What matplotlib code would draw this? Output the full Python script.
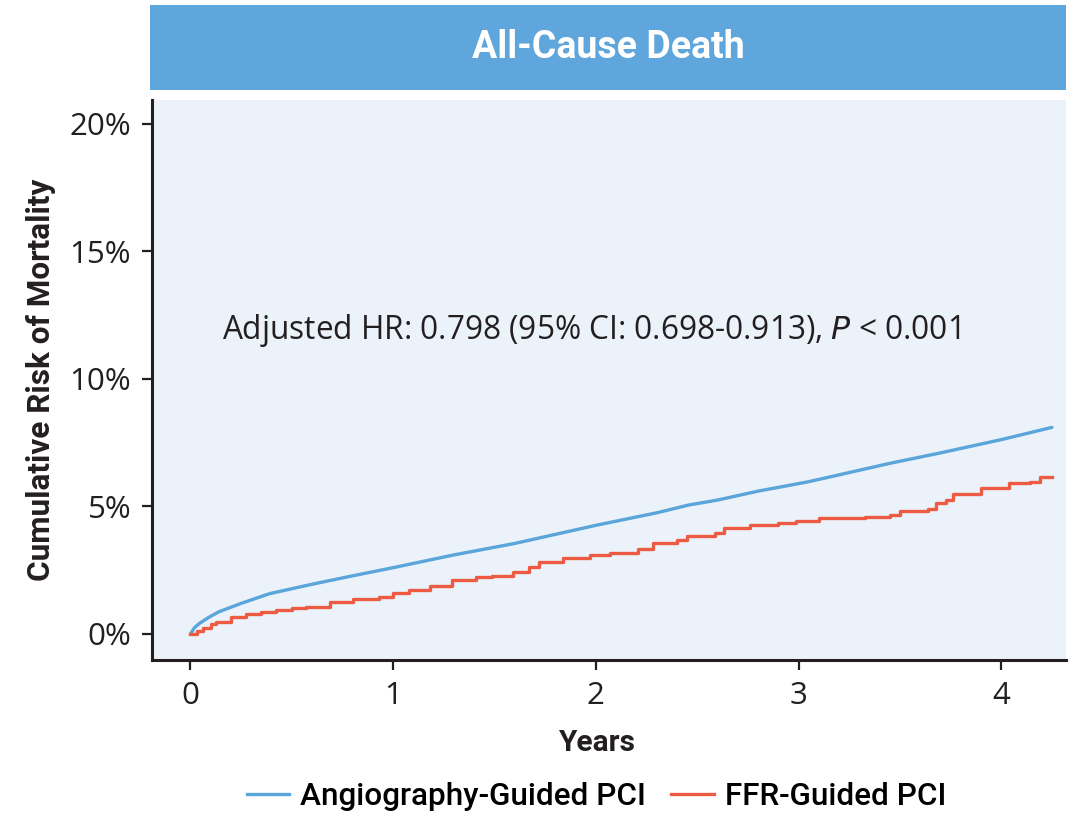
import matplotlib
matplotlib.use("Agg")
import matplotlib.pyplot as plt
from matplotlib.patches import Rectangle
from matplotlib.lines import Line2D

# Angiography-guided PCI, smooth cumulative incidence (years, %)
angio_years = [0.0, 0.02, 0.045, 0.09, 0.14, 0.25, 0.39, 0.6, 0.8, 1.0, 1.3, 1.6,
               2.0, 2.3, 2.46, 2.6, 2.8, 3.05, 3.25, 3.45, 3.7, 4.0, 4.25]
angio_risk = [0.0, 0.25, 0.42, 0.65, 0.87, 1.2, 1.58, 1.95, 2.28, 2.6, 3.1, 3.55,
              4.26, 4.75, 5.06, 5.25, 5.6, 5.97, 6.33, 6.69, 7.1, 7.62, 8.1]

# FFR-guided PCI, Kaplan-Meier style step curve (years, %)
ffr_years = [0.0, 0.03, 0.06, 0.1, 0.127, 0.2, 0.275, 0.35, 0.42, 0.5, 0.57, 0.686,
             0.8, 0.93, 1.0, 1.08, 1.18, 1.29, 1.41, 1.49, 1.59, 1.67, 1.72, 1.84,
             1.97, 2.07, 2.21, 2.28, 2.40, 2.45, 2.59, 2.63, 2.76, 2.90, 2.99, 3.1,
             3.33, 3.45, 3.50, 3.64, 3.68, 3.73, 3.76, 3.87, 3.90, 3.97, 4.04, 4.14,
             4.19, 4.25]
ffr_risk = [0.0, 0.12, 0.25, 0.38, 0.48, 0.65, 0.78, 0.86, 0.94, 1.0, 1.07, 1.27,
            1.36, 1.44, 1.6, 1.73, 1.88, 2.12, 2.25, 2.27, 2.44, 2.64, 2.84, 2.97,
            3.1, 3.19, 3.32, 3.55, 3.69, 3.84, 3.95, 4.14, 4.27, 4.36, 4.43, 4.54,
            4.6, 4.67, 4.84, 4.89, 5.15, 5.25, 5.49, 5.49, 5.71, 5.71, 5.93, 5.96,
            6.15, 6.15]

y_ticks = [0, 5, 10, 15, 20]
y_labels = ["0%", "5%", "10%", "15%", "20%"]
x_ticks = [0, 1, 2, 3, 4]

blue = "#5AA5DA"
red = "#EE5B43"
dark = "#231F20"
narrow = ["Roboto", "DejaVu Sans"]
plain = ["Open Sans", "DejaVu Sans"]

fig = plt.figure(figsize=(10.74, 8.16), dpi=100)

# header band
fig.patches.append(Rectangle((0.1397, 0.8897), 0.853, 0.1042, transform=fig.transFigure,
                             facecolor="#5EA6DB", edgecolor="none"))
fig.text(0.566, 0.942, "All-Cause Death", color="white", fontsize=27, fontweight="bold",
         family=narrow, ha="center", va="center")

ax = fig.add_axes([0.1415, 0.1912, 0.8511, 0.6863])
ax.set_facecolor("#EBF2FA")

ax.plot(angio_years, angio_risk, color=blue, lw=2.4, solid_capstyle="round")
ax.plot(ffr_years, ffr_risk, color=red, lw=2.4, drawstyle="steps-post")

ax.set_xlim(-0.19, 4.32)
ax.set_ylim(-1.02, 20.94)
ax.set_xticks(x_ticks)
ax.set_yticks(y_ticks)
ax.set_yticklabels(y_labels)

for s in ["top", "right"]:
    ax.spines[s].set_visible(False)
for s in ["left", "bottom"]:
    ax.spines[s].set_linewidth(2.2)
    ax.spines[s].set_color(dark)

ax.tick_params(axis="both", length=7, width=1.6, color=dark, labelcolor=dark,
               labelsize=22.5, pad=8)
for lab in ax.get_xticklabels() + ax.get_yticklabels():
    lab.set_family(plain)
    lab.set_fontweight("medium")

ax.set_xlabel("Years", fontsize=21.5, fontweight="bold", family=narrow, color=dark)
ax.xaxis.set_label_coords(0.487, -0.124)
ax.set_ylabel("Cumulative Risk of Mortality", fontsize=22.7, fontweight="bold", family=narrow,
              color=dark, labelpad=10)

ax.text(0.155, 11.9, "Adjusted HR: 0.798 (95% CI: 0.698-0.913), $\\mathit{P}$ < 0.001",
        fontsize=22.8, family=plain, fontweight="medium", color=dark, va="center", ha="left")

handles = [Line2D([], [], color=blue, lw=2.4), Line2D([], [], color=red, lw=2.4)]
fig.legend(handles, ["Angiography-Guided PCI", "FFR-Guided PCI"], loc="center",
           bbox_to_anchor=(0.5554, 0.024), ncol=2, frameon=False,
           prop={"family": narrow, "size": 22.7, "weight": "medium"}, handlelength=1.35,
           columnspacing=0.8, handletextpad=0.35)

fig.savefig("out.png", dpi=100)
